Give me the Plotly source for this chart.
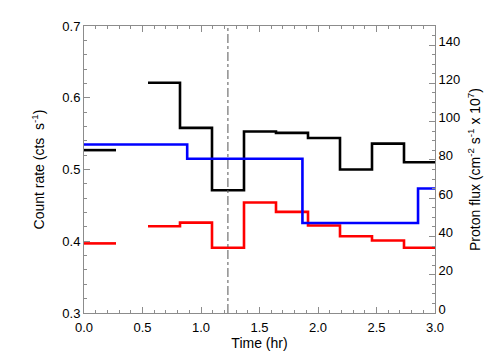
import plotly.graph_objects as go

# ---- data ----
count_bin_edges = [0.0, 0.2735, 0.547, 0.8205, 1.094, 1.3675, 1.641, 1.9145, 2.188, 2.4615, 2.735, 3.0085]
black_rate = [0.527, None, 0.621, 0.558, 0.471, 0.553, 0.551, 0.544, 0.500, 0.536, 0.510]
red_rate = [0.397, None, 0.421, 0.426, 0.391, 0.454, 0.441, 0.422, 0.407, 0.401, 0.391]

flux_bin_edges = [0.0, 0.882, 1.867, 2.855, 3.0]
blue_flux = [88.1, 80.6, 47.0, 65.1]

event_time = 1.23

x_ticks = [0.0, 0.5, 1.0, 1.5, 2.0, 2.5, 3.0]
y_ticks = [0.3, 0.4, 0.5, 0.6, 0.7]
y2_ticks = [0, 20, 40, 60, 80, 100, 120, 140]


def steps(edges, values):
    xs, ys = [], []
    for i, v in enumerate(values):
        if v is None:
            xs.append(None)
            ys.append(None)
            continue
        xs += [edges[i], edges[i + 1]]
        ys += [v, v]
    return xs, ys


FONT = "Liberation Sans, Arial, Helvetica, sans-serif"
AX = "#8c8c8c"

fig = go.Figure()
bx, by = steps(count_bin_edges, black_rate)
rx, ry = steps(count_bin_edges, red_rate)
ux, uy = steps(flux_bin_edges, blue_flux)

fig.add_trace(go.Scatter(x=bx, y=by, mode="lines", line=dict(color="black", width=2.6),
                         connectgaps=False, showlegend=False))
fig.add_trace(go.Scatter(x=rx, y=ry, mode="lines", line=dict(color="#ff0000", width=2.6),
                         connectgaps=False, showlegend=False))
fig.add_trace(go.Scatter(x=ux, y=uy, mode="lines", line=dict(color="#0000ff", width=2.6),
                         connectgaps=False, showlegend=False, yaxis="y2"))

fig.add_shape(type="line", xref="x", yref="paper", x0=event_time, x1=event_time, y0=0, y1=1,
              line=dict(color="#555555", width=1, dash="dashdot"))

fig.update_layout(
    width=504, height=360,
    margin=dict(l=76, r=77, t=18, b=55),
    paper_bgcolor="white", plot_bgcolor="white",
    font=dict(family=FONT, size=13, color="black"),
    xaxis=dict(
        range=[0, 3.0], tickvals=x_ticks, ticktext=[f"{v:.1f}" for v in x_ticks],
        ticks="inside", ticklen=6, tickcolor=AX, tickwidth=1,
        showline=True, linecolor=AX, linewidth=1, mirror="ticks",
        showgrid=False, zeroline=False, automargin=False, ticklabelstandoff=2,
        minor=dict(dtick=0.1, ticks="inside", ticklen=3, tickcolor=AX, showgrid=False),
        title=dict(text="Time (hr)", font=dict(size=14), standoff=2),
    ),
    yaxis=dict(
        range=[0.3, 0.7], tickvals=y_ticks, ticktext=[f"{v:.1f}" for v in y_ticks],
        ticks="inside", ticklen=6, tickcolor=AX, tickwidth=1,
        showline=True, linecolor=AX, linewidth=1, mirror=False,
        showgrid=False, zeroline=False, automargin=False,
        minor=dict(dtick=0.02, ticks="inside", ticklen=3, tickcolor=AX, showgrid=False),
        title=dict(text="Count rate (cts  s<sup>-1</sup>)", font=dict(size=14), standoff=14),
    ),
    yaxis2=dict(
        overlaying="y", side="right", anchor="x",
        range=[0, 150], tickvals=y2_ticks,
        ticks="inside", ticklen=6, tickcolor=AX, tickwidth=1,
        showline=True, linecolor=AX, linewidth=1,
        showgrid=False, zeroline=False, automargin=False, ticklabelshift=-4,
        minor=dict(dtick=5, ticks="inside", ticklen=3, tickcolor=AX, showgrid=False),
        title=dict(text="Proton flux (cm<sup>-2</sup> s<sup>-1</sup> x 10<sup>7</sup>)",
                   font=dict(size=14), standoff=10),
    ),
)

fig.write_html("out.html")
